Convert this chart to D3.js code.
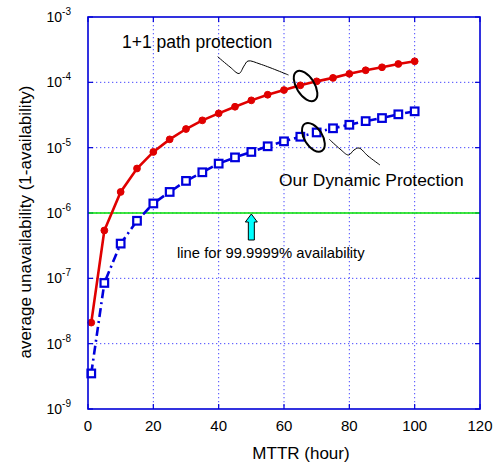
<!DOCTYPE html>
<html>
<head>
<meta charset="utf-8">
<script src="https://cdn.jsdelivr.net/npm/d3@7"></script>
<style>
  body { margin: 0; background: #fff; }
  text { font-family: "Liberation Sans", Arial, sans-serif; fill: #000; }
</style>
</head>
<body>
<svg id="chart" width="494" height="466"></svg>
<script>
// MTTR in hours
var mttr = [1, 5, 10, 15, 20, 25, 30, 35, 40, 45, 50, 55, 60, 65, 70, 75, 80, 85, 90, 95, 100];
// 1+1 path protection (red)
var pathProtection = [2.1e-8, 5.4e-7, 2.1e-6, 4.8e-6, 8.6e-6, 1.34e-5, 1.93e-5, 2.62e-5, 3.35e-5, 4.23e-5,
    5.3e-5, 6.46e-5, 7.62e-5, 9.0e-5, 1.035e-4, 1.17e-4, 1.35e-4, 1.53e-4, 1.7e-4, 1.91e-4, 2.1e-4];
// our dynamic protection (blue)
var dynamicProtection = [3.5e-9, 8.5e-8, 3.4e-7, 7.6e-7, 1.4e-6, 2.1e-6, 3.1e-6, 4.2e-6, 5.7e-6, 7.1e-6,
    8.6e-6, 1.05e-5, 1.25e-5, 1.47e-5, 1.71e-5, 1.98e-5, 2.24e-5, 2.55e-5, 2.84e-5, 3.24e-5, 3.6e-5];
var xTicks = [0, 20, 40, 60, 80, 100, 120];
var yExponents = [-9, -8, -7, -6, -5, -4, -3];
var targetLevel = 1e-6; // 99.9999% availability

window.onload = function () {
    var left = 88, top = 17, right = 480, bottom = 409;
    var svg = d3.select("#chart");

    var x = d3.scaleLinear().domain([0, 120]).range([left, right]);
    var y = d3.scaleLog().domain([1e-9, 1e-3]).range([bottom, top]);

    var axisBlue = "#0000d8";
    var gridBlue = "#4848ff";

    // dotted grid
    svg.append("g").selectAll("line").data(xTicks.slice(1, -1)).join("line")
        .attr("x1", d => x(d)).attr("x2", d => x(d)).attr("y1", top).attr("y2", bottom)
        .attr("stroke", gridBlue).attr("stroke-width", 1).attr("stroke-dasharray", "1.3,2.7");
    svg.append("g").selectAll("line").data(yExponents.slice(1, -1)).join("line")
        .attr("x1", left).attr("x2", right).attr("y1", d => y(Math.pow(10, d))).attr("y2", d => y(Math.pow(10, d)))
        .attr("stroke", gridBlue).attr("stroke-width", 1).attr("stroke-dasharray", "1.3,2.7");

    // inner tick marks on all sides
    var tl = 5;
    var ticks = svg.append("g").attr("stroke", axisBlue).attr("stroke-width", 1.2);
    xTicks.forEach(function (t) {
        ticks.append("line").attr("x1", x(t)).attr("x2", x(t)).attr("y1", bottom).attr("y2", bottom - tl);
        ticks.append("line").attr("x1", x(t)).attr("x2", x(t)).attr("y1", top).attr("y2", top + tl);
    });
    yExponents.forEach(function (e) {
        var yy = y(Math.pow(10, e));
        ticks.append("line").attr("x1", left).attr("x2", left + tl).attr("y1", yy).attr("y2", yy);
        ticks.append("line").attr("x1", right).attr("x2", right - tl).attr("y1", yy).attr("y2", yy);
    });

    // tick labels
    svg.append("g").selectAll("text").data(xTicks).join("text")
        .attr("x", d => x(d)).attr("y", bottom + 22)
        .attr("text-anchor", "middle").attr("font-size", 15).text(d => d);

    var yl = svg.append("g").selectAll("text").data(yExponents).join("text")
        .attr("x", 71).attr("y", d => y(Math.pow(10, d)) + 5)
        .attr("text-anchor", "end").attr("font-size", 14);
    yl.append("tspan").text("10");
    yl.append("tspan").attr("dy", -7).attr("font-size", 10).text(d => d);

    // axis labels
    svg.append("text").attr("x", 301).attr("y", 459).attr("text-anchor", "middle")
        .attr("font-size", 17).text("MTTR (hour)");
    svg.append("text").attr("transform", "translate(31,222) rotate(-90)").attr("text-anchor", "middle")
        .attr("font-size", 17).text("average unavailability (1-availability)");

    // 99.9999% availability line
    svg.append("line").attr("x1", left).attr("x2", right)
        .attr("y1", y(targetLevel)).attr("y2", y(targetLevel))
        .attr("stroke", "#00e000").attr("stroke-width", 1.6);

    // series
    var red = mttr.map((m, i) => [m, pathProtection[i]]);
    var blue = mttr.map((m, i) => [m, dynamicProtection[i]]);
    var line = d3.line().x(d => x(d[0])).y(d => y(d[1]));

    svg.append("path").datum(blue).attr("d", line).attr("fill", "none")
        .attr("stroke", "#0000dd").attr("stroke-width", 2.6).attr("stroke-dasharray", "9,4,2,4");
    svg.append("g").selectAll("rect").data(blue).join("rect")
        .attr("x", d => x(d[0]) - 3.8).attr("y", d => y(d[1]) - 3.8)
        .attr("width", 7.6).attr("height", 7.6)
        .attr("fill", "#fff").attr("stroke", "#0000dd").attr("stroke-width", 2.2);

    svg.append("path").datum(red).attr("d", line).attr("fill", "none")
        .attr("stroke", "#e00000").attr("stroke-width", 2.6);
    svg.append("g").selectAll("circle").data(red).join("circle")
        .attr("cx", d => x(d[0])).attr("cy", d => y(d[1])).attr("r", 3.4)
        .attr("fill", "#e00000").attr("stroke", "#e00000").attr("stroke-width", 1);

    // axis box
    svg.append("rect").attr("x", left).attr("y", top).attr("width", right - left).attr("height", bottom - top)
        .attr("fill", "none").attr("stroke", axisBlue).attr("stroke-width", 1.6);

    // annotations
    var squiggle = d3.line().curve(d3.curveCatmullRom);
    var e1 = [x(66.6), y(8.8e-5)];
    svg.append("ellipse").attr("cx", 0).attr("cy", 0).attr("rx", 17).attr("ry", 9)
        .attr("transform", "translate(" + e1[0] + "," + e1[1] + ") rotate(58)")
        .attr("fill", "none").attr("stroke", "#000").attr("stroke-width", 2);
    svg.append("path").attr("d", squiggle([[217.7, 56.7], [230, 67], [239, 73.5], [244, 66], [248, 61], [260, 64], [288.5, 75]]))
        .attr("fill", "none").attr("stroke", "#000").attr("stroke-width", 1);
    svg.append("text").attr("x", 122).attr("y", 48).attr("font-size", 17.5).text("1+1 path protection");

    var e2 = [x(69), y(1.44e-5)];
    svg.append("ellipse").attr("cx", 0).attr("cy", 0).attr("rx", 16).attr("ry", 9)
        .attr("transform", "translate(" + e2[0] + "," + e2[1] + ") rotate(58)")
        .attr("fill", "none").attr("stroke", "#000").attr("stroke-width", 2);
    svg.append("path").attr("d", squiggle([[329.3, 139.3], [340, 149], [348.5, 155], [354, 150], [359, 148], [368, 156], [380, 165]]))
        .attr("fill", "none").attr("stroke", "#000").attr("stroke-width", 1);
    svg.append("text").attr("x", 279).attr("y", 186).attr("font-size", 17.4).text("Our Dynamic Protection");

    // cyan arrow pointing to the target line
    var ax = x(50), ay = y(targetLevel) + 1;
    var arrow = d3.path();
    arrow.moveTo(ax, ay);
    arrow.lineTo(ax + 6, ay + 8);
    arrow.lineTo(ax + 3, ay + 8);
    arrow.lineTo(ax + 3, ay + 26);
    arrow.lineTo(ax - 3, ay + 26);
    arrow.lineTo(ax - 3, ay + 8);
    arrow.lineTo(ax - 6, ay + 8);
    arrow.closePath();
    svg.append("path").attr("d", arrow.toString()).attr("fill", "#00ffff").attr("stroke", "#000").attr("stroke-width", 1);
    svg.append("text").attr("x", 177).attr("y", 258).attr("font-size", 14.8).text("line for 99.9999% availability");
};
</script>
</body>
</html>
